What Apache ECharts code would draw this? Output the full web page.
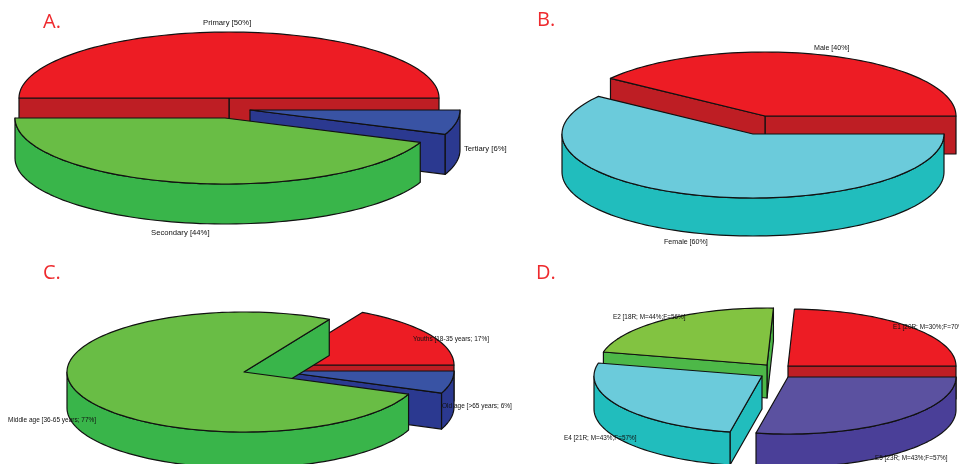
<!DOCTYPE html>
<html>
<head>
<meta charset="utf-8">
<title>Pie charts</title>
<script src="https://cdn.jsdelivr.net/npm/echarts@6/dist/echarts.min.js"></script>
<style>
  html, body { margin: 0; padding: 0; background: #fff; }
  #container { width: 959px; height: 464px; filter: blur(0.5px); }
</style>
</head>
<body>
<div id="container"></div>
<script>
// values
const levelLabels = ["Primary [50%]", "Secondary [44%]", "Tertiary [6%]"];
const levelValues = [50, 44, 6];

const sexLabels = ["Male [40%]", "Female [60%]"];
const sexValues = [40, 60];

const ageLabels = ["Youths [18-35 years; 17%]", "Middle age [36-65 years; 77%]", "Old age [>65 years; 6%]"];
const ageValues = [17, 77, 6];

const regionLabels = ["E1 [20R; M=30%;F=70%]", "E2 [18R; M=44%;F=56%]", "E4 [21R; M=43%;F=57%]", "E5 [23R; M=43%;F=57%]"];
const regionValues = [20, 18, 21, 23];

const panelNames = ["A.", "B.", "C.", "D."];

// top colour, side colour
const red = ["#ed1c24", "#be1e24"];
const green = ["#69bd45", "#39b54a"];
const blue = ["#3953a4", "#2b3990"];
const cyan = ["#6bcbdb", "#21bdbd"];
const lime = ["#82c341", "#4db848"];
const purple = ["#5b51a0", "#4a3f98"];

// layout of each pie: centre of every slice, and where its label sits
const panels = [
  {
    values: levelValues, labels: levelLabels, rx: 210, ry: 66, depth: 40, fontSize: 7.7,
    centers: [[229, 98], [225, 118], [250, 110]],
    colors: [red, green, blue],
    labelPos: [[203, 23], [151, 233], [464, 149]],
    order: [0, 2, 1]
  },
  {
    values: sexValues, labels: sexLabels, rx: 191, ry: 64, depth: 38, fontSize: 7.1,
    centers: [[765, 116], [753, 134]],
    colors: [red, cyan],
    labelPos: [[814, 48], [664, 242]],
    order: [0, 1]
  },
  {
    values: ageValues, labels: ageLabels, rx: 177, ry: 60, depth: 36, fontSize: 6.5,
    centers: [[277, 365], [244, 372], [277, 371]],
    colors: [red, green, blue],
    labelPos: [[413, 339], [8, 420], [442, 406]],
    order: [0, 2, 1]
  },
  {
    values: regionValues, labels: regionLabels, rx: 168, ry: 57, depth: 33, fontSize: 6.4,
    centers: [[788, 366], [767, 365], [762, 376], [788, 377]],
    colors: [red, lime, cyan, purple],
    labelPos: [[893, 327], [613, 317], [564, 438], [875, 458]],
    order: [0, 1, 3, 2]
  }
];

const titlePos = [[43, 12], [537, 10], [43, 263], [536, 263]];

const lineColor = "#111";
const lineWidth = 1.2;

function pt(c, rx, ry, deg, drop) {
  let a = (deg * Math.PI) / 180;
  return [c[0] + rx * Math.cos(a), c[1] - ry * Math.sin(a) + drop];
}

function arc(c, rx, ry, from, to, drop) {
  let out = [];
  let steps = Math.max(1, Math.ceil(Math.abs(to - from) / 2));
  for (let i = 0; i <= steps; i++) {
    out.push(pt(c, rx, ry, from + ((to - from) * i) / steps, drop));
  }
  return out;
}

function poly(points, fill) {
  return {
    type: "polygon",
    shape: { points: points },
    style: { fill: fill, stroke: lineColor, lineWidth: lineWidth, lineJoin: "round" }
  };
}

function pieSeries(panel) {
  let total = panel.values.reduce((s, v) => s + v, 0);
  let starts = [];
  let run = 0;
  panel.values.forEach((v) => {
    starts.push(run);
    run += v;
  });

  // rows in painting order: slice index, start angle, end angle
  let rows = panel.order.map((i) => [
    i,
    (starts[i] / total) * 360,
    ((starts[i] + panel.values[i]) / total) * 360
  ]);

  return {
    type: "custom",
    coordinateSystem: "none",
    silent: true,
    clip: false,
    data: rows,
    renderItem: function (params, api) {
      let i = api.value(0);
      let a0 = api.value(1);
      let a1 = api.value(2);
      let c = panel.centers[i];
      let rx = panel.rx;
      let ry = panel.ry;
      let d = panel.depth;
      let top = panel.colors[i][0];
      let side = panel.colors[i][1];
      let children = [];

      // cut faces that look towards the viewer
      [[a0, Math.cos((a0 * Math.PI) / 180) > 0.0001], [a1, Math.cos((a1 * Math.PI) / 180) < -0.0001]].forEach((f) => {
        if (f[1]) {
          let rim = pt(c, rx, ry, f[0], 0);
          children.push(poly([c, rim, [rim[0], rim[1] + d], [c[0], c[1] + d]], side));
        }
      });

      // outer wall, front half only
      let from = Math.max(a0, 180);
      let to = Math.min(a1, 360);
      if (to > from) {
        let upper = arc(c, rx, ry, from, to, 0);
        let lower = arc(c, rx, ry, to, from, d);
        children.push(poly(upper.concat(lower), side));
      }

      children.push(poly([c].concat(arc(c, rx, ry, a0, a1, 0)), top));

      children.push({
        type: "text",
        z2: 100,
        style: {
          text: panel.labels[i],
          x: panel.labelPos[i][0],
          y: panel.labelPos[i][1],
          verticalAlign: "middle",
          fill: "#111",
          font: panel.fontSize + 'px "Liberation Sans"'
        }
      });

      return { type: "group", children: children };
    }
  };
}

const myChart = echarts.init(document.getElementById("container"));

myChart.setOption({
  animation: false,
  backgroundColor: "#fff",
  title: panelNames.map((name, i) => ({
    text: name,
    left: titlePos[i][0],
    top: titlePos[i][1],
    padding: 0,
    textStyle: { color: "#ee2a2e", fontSize: 20, fontWeight: "normal", fontFamily: "Open Sans" }
  })),
  series: panels.map(pieSeries)
});
</script>
</body>
</html>
